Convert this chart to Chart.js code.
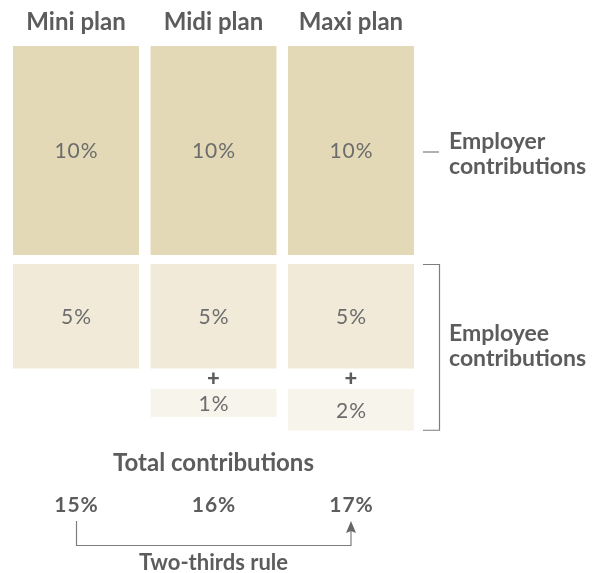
<!DOCTYPE html>
<html><head><meta charset="utf-8">
<script src="https://cdn.jsdelivr.net/npm/chart.js@4"></script>
<style>html,body{margin:0;padding:0;background:#fff}#wrap{width:596px;height:573px}</style>
</head><body><div id="wrap"><canvas id="c" width="596" height="573"></canvas></div>
<script>
const plans = ["Mini plan", "Midi plan", "Maxi plan"];
const employer = [10, 10, 10];
const employee = [5, 5, 5];
const extra = [null, 1, 2];
const groupLabels = [["Employer", "contributions"], ["Employee", "contributions"]];
const totalTitle = "Total contributions";
const ruleLabel = "Two-thirds rule";

const totals = plans.map((_, i) => employer[i] + employee[i] + (extra[i] || 0));

// layout gaps (in axis units) between stacked blocks
const G1 = 0.43, G2 = 0.98;
const empStart = employer.map(v => v + G1);
const employerBars = employer.map(v => [0, v]);
const employeeBars = employee.map((v, i) => [empStart[i], empStart[i] + v]);
const extraBars = extra.map((v, i) => v == null ? null : [empStart[i] + employee[i] + G2, empStart[i] + employee[i] + G2 + v]);

const TXT = '#5c5c5c';
const VAL = '#6c6c6c';
const LINE = '#7d7d7d';
const FONT = 'Lato, "Open Sans", sans-serif';

const overlay = {
  id: 'overlay',
  afterDatasetsDraw(chart) {
    const ctx = chart.ctx;
    const vals = [employer, employee, extra];
    ctx.save();
    // value labels
    ctx.textAlign = 'center';
    ctx.textBaseline = 'middle';
    ctx.fillStyle = VAL;
    ctx.font = '400 21px ' + FONT;
    ctx.letterSpacing = '1px';
    for (let d = 0; d < 3; d++) {
      const meta = chart.getDatasetMeta(d);
      meta.data.forEach((bar, i) => {
        const v = vals[d][i];
        if (v == null) return;
        ctx.fillText(v + '%', bar.x + 0.5, (bar.y + bar.base) / 2 + 1);
      });
    }
    ctx.letterSpacing = '0px';
    // plus signs
    const mEmp = chart.getDatasetMeta(1), mExt = chart.getDatasetMeta(2);
    ctx.fillStyle = TXT;
    ctx.font = '900 22px ' + FONT;
    extra.forEach((v, i) => {
      if (v == null) return;
      const b1 = mEmp.data[i], b2 = mExt.data[i];
      const y = (Math.max(b1.y, b1.base) + Math.min(b2.y, b2.base)) / 2;
      ctx.fillText('+', b1.x, y);
    });
    // right annotations
    const mEr = chart.getDatasetMeta(0);
    const eb = mEr.data[2];
    const eMid = (eb.y + eb.base) / 2;
    ctx.strokeStyle = LINE;
    ctx.lineWidth = 1.2;
    ctx.beginPath();
    ctx.moveTo(423, eMid + 1.5); ctx.lineTo(439, eMid + 1.5);
    ctx.stroke();
    const topEmp = Math.min(mEmp.data[2].y, mEmp.data[2].base);
    const botExt = Math.max(mExt.data[2].y, mExt.data[2].base);
    ctx.beginPath();
    ctx.moveTo(423, topEmp + 0.5); ctx.lineTo(439.5, topEmp + 0.5);
    ctx.lineTo(439.5, botExt - 0.5); ctx.lineTo(423, botExt - 0.5);
    ctx.stroke();
    ctx.fillStyle = TXT;
    ctx.font = 'bold 23px ' + FONT;
    ctx.textAlign = 'left';
    ctx.textBaseline = 'alphabetic';
    ctx.fillText(groupLabels[0][0], 449, eMid - 1.5);
    ctx.fillText(groupLabels[0][1], 449, eMid + 23.5);
    const bMid = (topEmp + botExt) / 2;
    ctx.fillText(groupLabels[1][0], 449, bMid - 6.5);
    ctx.fillText(groupLabels[1][1], 449, bMid + 18.5);
    // totals
    const xs = chart.scales.x;
    const cx = plans.map((_, i) => xs.getPixelForValue(i));
    ctx.textAlign = 'center';
    ctx.font = 'bold 24px ' + FONT;
    ctx.fillText(totalTitle, cx[1], 471);
    ctx.font = 'bold 21px ' + FONT;
    ctx.letterSpacing = '1px';
    totals.forEach((t, i) => ctx.fillText(t + '%', cx[i] + 0.5, 512));
    ctx.letterSpacing = '0px';
    // arrow
    const xl = cx[0] + 0.5, xr = cx[2];
    ctx.beginPath();
    ctx.moveTo(xl, 521); ctx.lineTo(xl, 545.5); ctx.lineTo(xr, 545.5); ctx.lineTo(xr, 531);
    ctx.stroke();
    ctx.fillStyle = '#666';
    ctx.beginPath();
    ctx.moveTo(xr, 521); ctx.lineTo(xr - 5, 533); ctx.lineTo(xr, 531); ctx.lineTo(xr + 5, 533); ctx.closePath();
    ctx.fill();
    ctx.fillStyle = TXT;
    ctx.font = 'bold 22px ' + FONT;
    ctx.fillText(ruleLabel, cx[1], 570);
    ctx.restore();
  }
};

new Chart(document.getElementById('c'), {
  type: 'bar',
  data: {
    labels: plans,
    datasets: [
      { label: 'Employer', data: employerBars, backgroundColor: '#e3d9b7' },
      { label: 'Employee', data: employeeBars, backgroundColor: '#f1ead8' },
      { label: 'Extra', data: extraBars, backgroundColor: '#f7f4eb', minBarLength: 28 }
    ]
  },
  options: {
    responsive: false,
    animation: false,
    devicePixelRatio: 1,
    layout: { padding: { left: 7.25, right: 176.25, top: 0, bottom: 109 } },
    datasets: { bar: { grouped: false, barPercentage: 0.916, categoryPercentage: 1, borderWidth: 0, borderSkipped: false } },
    plugins: { legend: { display: false }, tooltip: { enabled: false }, title: { display: false } },
    scales: {
      x: {
        position: 'top',
        grid: { display: false, drawTicks: false },
        border: { display: false },
        ticks: { color: TXT, font: { family: FONT, size: 24, weight: 'bold' }, padding: 9 },
        afterFit(s) { s.height = 46; }
      },
      y: { display: false, reverse: true, min: 0, max: 20 }
    }
  },
  plugins: [overlay]
});
</script>
</body></html>
